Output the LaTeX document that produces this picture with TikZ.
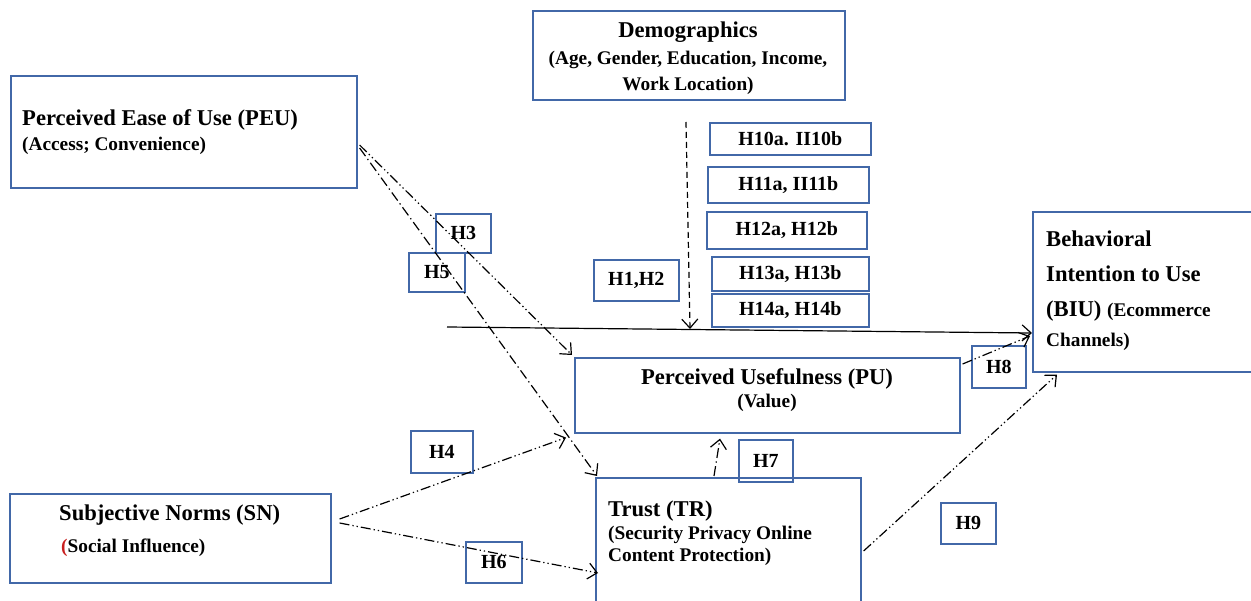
\documentclass[tikz,border=0pt]{standalone}
\usepackage{fontspec}
\setmainfont{Liberation Serif}
\usetikzlibrary{arrows.meta,calc}
\definecolor{boxblue}{RGB}{66,104,168}
\definecolor{parred}{RGB}{200,30,30}
\tikzset{
  box/.style={draw=boxblue, line width=1.6pt, inner sep=0pt, anchor=north west},
  big/.style={font=\bfseries\fontsize{22.6}{27}\selectfont, inner sep=0pt},
  small/.style={font=\bfseries\fontsize{19.3}{23}\selectfont, inner sep=0pt},
  hlab/.style={font=\bfseries\fontsize{20}{24}\selectfont, inner sep=0pt},
  conn/.style={line width=1.2pt, -{Straight Barb[length=9pt,width=16pt,line width=1.2pt]}},
  ddot/.style={conn, dash pattern=on 10pt off 3pt on 1.3pt off 3pt on 1.3pt off 3pt},
  sdot/.style={conn, dash pattern=on 10pt off 3.5pt on 1.3pt off 3.5pt},
}
\newcommand{\bxnode}[5]{\node[box, minimum width=#4pt-#2pt, minimum height=#5pt-#3pt] (#1) at (#2,#3) {};}
\begin{document}
\begin{tikzpicture}[x=1pt,y=-1pt]
\useasboundingbox (0,0) rectangle (1251,601);
% main boxes
\bxnode{PEU}{10}{75}{356}{187}
\bxnode{DEM}{532}{10}{844}{99}
\bxnode{BIU}{1032}{211}{1260}{371}
\bxnode{PU}{574}{357}{959}{432}
\bxnode{TR}{595}{477}{860}{620}
\bxnode{SN}{9}{493}{330}{582}
% hypothesis boxes
\bxnode{H10}{709}{122}{870}{154}
\bxnode{H11}{707}{166}{868}{202}
\bxnode{H12}{706}{211}{866}{248}
\bxnode{H13}{711}{256}{868}{290}
\bxnode{H14}{711}{293}{868}{326}
\bxnode{H12b}{593}{259}{678}{300}
\bxnode{H3}{435}{213}{490}{252}
\bxnode{H5}{408}{252}{464}{291}
\bxnode{H8}{971}{345}{1025}{387}
\bxnode{H7}{738}{439}{792}{481}
\bxnode{H9}{940}{502}{995}{543}
\bxnode{H4}{410}{430}{472}{472}
\bxnode{H6}{465}{541}{521}{582}
% texts
\node[big, anchor=base west] (tPEU1) at (22,126) {Perceived Ease of Use (PEU)};
\node[small, anchor=base west] (tPEU2) at (22,151) {(Access; Convenience)};
\node[big, anchor=base] (tDEM1) at (688,38) {Demographics};
\node[small, anchor=base] (tDEM2) at (688,65) {(Age, Gender, Education, Income,};
\node[small, anchor=base] (tDEM3) at (688,91) {Work Location)};
\node[big, anchor=base west] (tBIU1) at (1046,247) {Behavioral};
\node[big, anchor=base west] (tBIU2) at (1046,282) {Intention to Use};
\node[big, anchor=base west] (tBIU3) at (1046,317) {(BIU) {\fontsize{19.3}{23}\selectfont(Ecommerce}};
\node[small, anchor=base west] (tBIU4) at (1046,347) {Channels)};
\node[big, anchor=base] (tPU1) at (767,385) {Perceived Usefulness (PU)};
\node[small, anchor=base] (tPU2) at (767,408) {(Value)};
\node[big, anchor=base west] (tTR1) at (608,516) {Trust (TR)};
\node[small, anchor=base west] (tTR2) at (608,539) {(Security Privacy Online};
\node[small, anchor=base west] (tTR3) at (608,561) {Content Protection)};
\node[big, anchor=base west] (tSN1) at (59,521) {Subjective Norms (SN)};
\node[small, anchor=base west] (tSN2) at (61,552) {{\color{parred}(}Social Influence)};
% hypothesis labels
\node[hlab] (lH10) at (H10) {H10a. II10b};
\node[hlab] (lH11) at (H11) {H11a, II11b};
\node[hlab] (lH12) at (H12) {H12a, H12b};
\node[hlab] (lH13) at (H13) {H13a, H13b};
\node[hlab] (lH14) at (H14) {H14a, H14b};
\node[hlab] (lH12b) at (H12b) {H1,H2};
\node[hlab] (lH3) at (H3) {H3};
\node[hlab] (lH5) at (H5) {H5};
\node[hlab] (lH8) at (H8) {H8};
\node[hlab] (lH7) at (H7) {H7};
\node[hlab] (lH9) at (H9) {H9};
\node[hlab] (lH4) at (H4) {H4};
\node[hlab] (lH6) at (H6) {H6};
% free ends
\coordinate (s0) at (447,327);
\coordinate (d0) at (686,122);
\coordinate (d1) at (690,329);
% connectors
\draw[conn] (s0) -- ([yshift=-122pt]BIU.north west);
\draw[conn, dash pattern=on 6pt off 4pt] (d0) -- (d1);
\draw[ddot] ([yshift=-70pt,xshift=2pt]PEU.north east) -- ([xshift=-2pt,yshift=2pt]PU.north west);
\draw[sdot] ([yshift=-73pt,xshift=2pt]PEU.north east) -- ([xshift=2pt,yshift=1pt]TR.north west);
\draw[ddot] ([xshift=8pt,yshift=-26pt]SN.north east) -- ([xshift=-8pt,yshift=-4pt]PU.south west);
\draw[ddot] ([xshift=8pt,yshift=-30pt]SN.north east) -- ([xshift=3pt,yshift=-96pt]TR.north west);
\draw[sdot] ([xshift=119pt,yshift=1pt]TR.north west) -- ([xshift=146pt,yshift=-5pt]PU.south west);
\draw[ddot] ([xshift=2pt,yshift=-7pt]PU.north east) -- ([xshift=-2pt,yshift=-125pt]BIU.north west);
\draw[ddot] ([xshift=2pt,yshift=-74pt]TR.north east) -- ([xshift=25pt,yshift=-2pt]BIU.south west);
\end{tikzpicture}
\end{document}
